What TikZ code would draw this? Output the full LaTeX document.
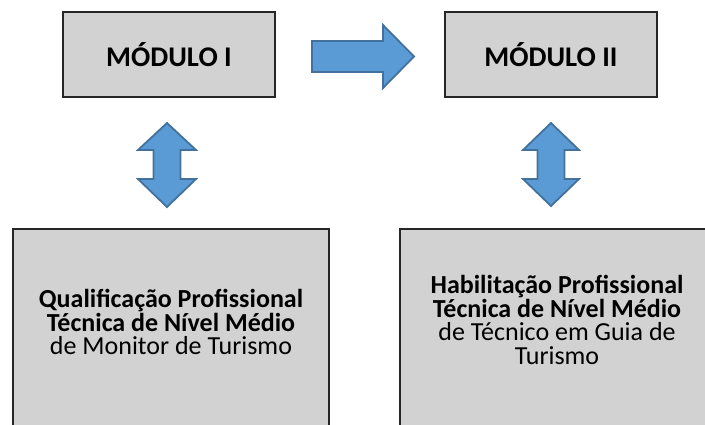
\documentclass[tikz,border=0pt]{standalone}
\usepackage{fontspec}
\setmainfont{Carlito}
\definecolor{boxgray}{HTML}{D2D2D2}
\definecolor{arrowblue}{HTML}{5B9BD5}
\definecolor{arrowline}{HTML}{41719C}

\begin{document}
\begin{tikzpicture}[x=1pt, y=-1pt,
    box/.style={draw=black!85, fill=boxgray, line width=1.2pt},
    blockarrow/.style={fill=arrowblue, draw=arrowline, line width=1.8pt, line join=miter},
    txt/.style={align=center, font=\fontsize{26}{23.5}\selectfont},
    title/.style={font=\fontsize{28.5}{30}\selectfont\bfseries}]
      \useasboundingbox (0,0) rectangle (705,424);
      \node[box, minimum width=212pt, minimum height=85pt, title] (mod1) at (169,54.5) {MÓDULO I};
      \node[box, minimum width=212pt, minimum height=85pt, title] (mod2) at (551,54.5) {MÓDULO II};
      \draw[box] (13,229) rectangle (329,440) (400,229) rectangle (714,440);
      \node[txt] (qualif) at (171,322) {\bfseries Qualificação Profissional\\ \bfseries Técnica de Nível Médio\\ de Monitor de Turismo};
      \node[txt] (habil) at (557,320) {\bfseries Habilitação Profissional\\ \bfseries Técnica de Nível Médio\\ de Técnico em Guia de\\ Turismo};
      \filldraw[blockarrow] (312,41) -- (383,41) -- (383,25) -- (414,56.5) -- (383,88) -- (383,72) -- (312,72) -- cycle;
      \filldraw[blockarrow, shift={(167,0)}] (0,123) -- (29,150) -- (13.5,150) -- (13.5,179) -- (29,179) -- (0,207)
            -- (-29,179) -- (-13.5,179) -- (-13.5,150) -- (-29,150) -- cycle;
      \filldraw[blockarrow, shift={(551,0)}] (0,123) -- (28,150) -- (13.5,150) -- (13.5,179) -- (28,179) -- (0,206)
            -- (-28,179) -- (-13.5,179) -- (-13.5,150) -- (-28,150) -- cycle;
    \end{tikzpicture}
\end{document}
